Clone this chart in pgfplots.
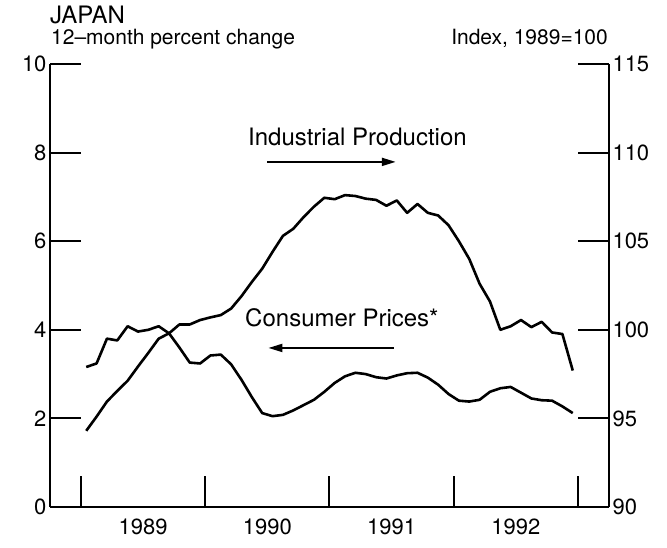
\documentclass[border=0pt]{standalone}
\usepackage{pgfplots}
\pgfplotsset{compat=1.18}
\usepackage{pgfplotstable}
\usepackage{fontspec}
\setmainfont{TeX Gyre Heros}
\usetikzlibrary{arrows.meta}

\pgfplotstableread{
m cpi
0 1.72
1 2.04
2 2.38
3 2.62
4 2.85
5 3.17
6 3.48
7 3.80
8 3.92
9 3.60
10 3.26
11 3.24
12 3.42
13 3.44
14 3.22
15 2.87
16 2.48
17 2.12
18 2.05
19 2.08
20 2.18
21 2.30
22 2.42
23 2.60
24 2.80
25 2.95
26 3.03
27 3.00
28 2.93
29 2.90
30 2.97
31 3.02
32 3.03
33 2.92
34 2.76
35 2.55
36 2.40
37 2.38
38 2.42
39 2.60
40 2.68
41 2.71
42 2.58
43 2.45
44 2.41
45 2.40
46 2.27
47 2.12
}\cpitable

\pgfplotstableread{
m ip
0 97.9
1 98.1
2 99.5
3 99.4
4 100.2
5 99.9
6 100.0
7 100.2
8 99.8
9 100.3
10 100.3
11 100.55
12 100.7
13 100.83
14 101.2
15 101.9
16 102.7
17 103.45
18 104.4
19 105.3
20 105.7
21 106.36
22 106.95
23 107.45
24 107.37
25 107.6
26 107.55
27 107.4
28 107.33
29 107.0
30 107.3
31 106.6
32 107.1
33 106.6
34 106.45
35 105.9
36 105.0
37 104.0
38 102.6
39 101.6
40 100.0
41 100.2
42 100.55
43 100.15
44 100.45
45 99.85
46 99.76
47 97.7
}\iptable

\pgfplotsset{
  common/.style={
    at={(50pt,41pt)}, anchor=south west,
    width=559pt, height=443pt, scale only axis,
    xmin=-3.5, xmax=50.5,
    tick align=inside,
    major tick length=31pt,
    tick style={line width=2pt, black},
    axis line style={line width=1.8pt},
    tick label style={font=\fontsize{22}{25}\selectfont},
    /pgf/number format/assume math mode=true,
    clip=false,
  }
}

\begin{document}
\begin{tikzpicture}[x=1pt,y=1pt]
\path[use as bounding box] (0,0) rectangle (667,548);

\begin{axis}[common,
  ymin=0, ymax=10,
  axis x line*=bottom, axis y line*=left,
  x axis line style={line width=2.8pt},
  xtick={-0.5,11.5,23.5,35.5,47.5},
  xticklabels={1989,1990,1991,1992},
  x tick label as interval,
  xticklabel style={yshift=-8pt},
  ytick={0,2,4,6,8,10},
]
\addplot[line width=2.6pt, black, line join=round] table[x=m, y=cpi] {\cpitable};
\node[font=\fontsize{24}{28}\selectfont] at (axis cs:26.2,8.35) {Industrial Production};
\draw[-{Triangle[length=14pt,width=8pt]}, line width=2pt] (axis cs:17.5,7.79) -- (axis cs:29.9,7.79);
\node[font=\fontsize{24}{28}\selectfont] at (axis cs:24.7,4.27) {Consumer Prices*};
\draw[-{Triangle[length=14pt,width=8pt]}, line width=2pt] (axis cs:29.7,3.59) -- (axis cs:17.6,3.59);
\end{axis}

\begin{axis}[common,
  ymin=90, ymax=115,
  axis y line*=right, axis x line=none,
  ytick={90,95,100,105,110,115},
]
\addplot[line width=2.6pt, black, line join=round] table[x=m, y=ip] {\iptable};
\end{axis}

\node[anchor=base west, inner sep=0, font=\fontsize{24}{28}\selectfont] at (50,524) {JAPAN};
\node[anchor=base west, inner sep=0, font=\fontsize{21}{25}\selectfont] at (51,503) {12--month percent change};
\node[anchor=base east, inner sep=0, font=\fontsize{21}{25}\selectfont] at (608,503) {Index, 1989=100};
\end{tikzpicture}
\end{document}
